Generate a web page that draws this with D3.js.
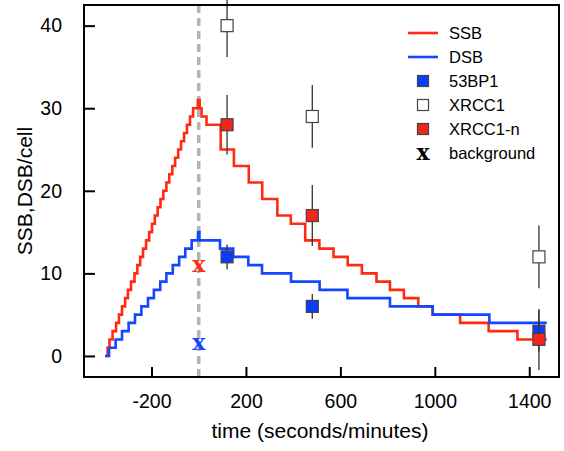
<!DOCTYPE html>
<html>
<head>
<meta charset="utf-8">
<script src="https://cdn.jsdelivr.net/npm/d3@7"></script>
<style>
  body { margin: 0; background: #fff; }
  svg { font-family: "Liberation Sans", Arial, sans-serif; }
</style>
</head>
<body>
<div id="container"></div>
<script>
/* CONSTANTS AND GLOBALS */
const width = 564,
  height = 451,
  margin = {top: 5, bottom: 74, left: 84, right: 5};

/* DATA */
// step curves: time where the value starts, and the value
const ssbT = [-393, -386, -378, -365, -350, -338, -325, -312, -300, -287, -272, -260, -248, -236, -223, -210,
  -198, -186, -174, -162, -150, -137, -125, -112, -100, -87, -75, -62, -50, -37, -24, -4,
  4, 12, 33, 93, 149, 212, 269, 333, 390, 451, 511, 571, 631, 691, 753, 810, 869, 930, 991, 1107, 1228, 1350, 1474];
const ssbV = [0, 1, 2, 3, 4, 5, 6, 7, 8, 9, 10, 11, 12, 13, 14, 15,
  16, 17, 18, 19, 20, 21, 22, 23, 24, 25, 26, 27, 28, 29, 30, 31,
  30, 29, 28, 25, 23, 21, 19, 17, 16, 14, 13, 12, 11, 10, 9, 8, 7, 6, 5, 4, 3, 2, 2];

const dsbT = [-397, -380, -352, -325, -297, -270, -243, -215, -190, -163, -137, -110, -83, -57, -30, -3,
  3, 90, 146, 210, 268, 391, 512, 630, 810, 991, 1231, 1474];
const dsbV = [0, 1, 2, 3, 4, 5, 6, 7, 8, 9, 10, 11, 12, 13, 14, 15,
  14, 13, 12, 11, 10, 9, 8, 7, 6, 5, 4, 4];

const markT = [120, 481, 1441];
const bp53 = [12, 6, 3], bp53Err = [1.5, 1.5, 2.5];
const xrcc1 = [40, 29, 12], xrcc1Err = [3.8, 3.8, 3.8];
const xrcc1n = [28, 17, 2], xrcc1nErr = [3.6, 3.7, 3.7];

const bgT = [0, 0];
const bgV = [11, 1.5];

const xTicks = [-200, 200, 600, 1000, 1400];
const yTicks = [0, 10, 20, 30, 40];

const legendItems = ["SSB", "DSB", "53BP1", "XRCC1", "XRCC1-n", "background"];

const red = "#ff2a12", blue = "#1446ff";

/* SCALES */
const xScale = d3.scaleLinear()
  .domain([-486, 1526])
  .range([margin.left, width - margin.right]);

const yScale = d3.scaleLinear()
  .domain([-2.55, 42.5])
  .range([height - margin.bottom, margin.top]);

/* HTML ELEMENTS */
const svg = d3.select("#container")
  .append("svg")
  .attr("width", width)
  .attr("height", height);

// dashed line at time zero
svg.append("line")
  .attr("x1", xScale(0)).attr("x2", xScale(0))
  .attr("y1", margin.top).attr("y2", height - margin.bottom)
  .attr("stroke", "#b4b4b4")
  .attr("stroke-width", 3.5)
  .attr("stroke-dasharray", "8,5");

const line = d3.line()
  .x(d => xScale(d[0]))
  .y(d => yScale(d[1]))
  .curve(d3.curveStepAfter);

svg.append("path")
  .datum(ssbT.map((t, i) => [t, ssbV[i]]))
  .attr("d", line)
  .attr("fill", "none")
  .attr("stroke", red)
  .attr("stroke-width", 2.6);

svg.append("path")
  .datum(dsbT.map((t, i) => [t, dsbV[i]]))
  .attr("d", line)
  .attr("fill", "none")
  .attr("stroke", blue)
  .attr("stroke-width", 2.6);

// markers with error bars
const series = [
  {vals: xrcc1, err: xrcc1Err, fill: "#ffffff"},
  {vals: bp53, err: bp53Err, fill: "#0a3cff"},
  {vals: xrcc1n, err: xrcc1nErr, fill: "#f2261a"}
];

const sq = 12;
series.forEach(s => {
  const g = svg.append("g");
  g.selectAll("line")
    .data(markT)
    .join("line")
    .attr("x1", d => xScale(d)).attr("x2", d => xScale(d))
    .attr("y1", (d, i) => yScale(s.vals[i] + s.err[i]))
    .attr("y2", (d, i) => yScale(s.vals[i] - s.err[i]))
    .attr("stroke", "#333")
    .attr("stroke-width", 1.3);
  g.selectAll("rect")
    .data(markT)
    .join("rect")
    .attr("x", d => xScale(d) - sq / 2)
    .attr("y", (d, i) => yScale(s.vals[i]) - sq / 2)
    .attr("width", sq).attr("height", sq)
    .attr("fill", s.fill)
    .attr("stroke", "#444")
    .attr("stroke-width", 1.2);
});

// background crosses
const crossFont = "'DejaVu Serif', 'Liberation Serif', serif";
svg.selectAll(".bg")
  .data(bgT)
  .join("text")
  .attr("class", "bg")
  .attr("x", d => xScale(d))
  .attr("y", (d, i) => yScale(bgV[i]))
  .attr("dy", "0.3em")
  .attr("text-anchor", "middle")
  .attr("fill", (d, i) => i == 0 ? red : blue)
  .style("font-family", crossFont)
  .style("font-weight", "bold")
  .style("font-size", "22px")
  .text("x");

// frame
svg.append("rect")
  .attr("x", margin.left).attr("y", margin.top)
  .attr("width", width - margin.left - margin.right)
  .attr("height", height - margin.top - margin.bottom)
  .attr("fill", "none")
  .attr("stroke", "#000")
  .attr("stroke-width", 2);

// axes, ticks pointing inward
const xAxis = d3.axisBottom(xScale).tickValues(xTicks).tickFormat(d => String(d))
  .tickSizeInner(-10).tickSizeOuter(0).tickPadding(17);
const yAxis = d3.axisLeft(yScale).tickValues(yTicks).tickFormat(d => String(d))
  .tickSizeInner(-11).tickSizeOuter(0).tickPadding(22);

const gx = svg.append("g")
  .attr("transform", `translate(0, ${height - margin.bottom})`)
  .call(xAxis);
const gy = svg.append("g")
  .attr("transform", `translate(${margin.left}, 0)`)
  .call(yAxis);

[gx, gy].forEach(g => {
  g.select(".domain").remove();
  g.selectAll(".tick line").attr("stroke", "#000").attr("stroke-width", 2);
  g.selectAll(".tick text")
    .attr("fill", "#000")
    .style("font-family", "'Liberation Sans', Arial, sans-serif")
    .style("font-size", "19.5px");
});

svg.append("text")
  .attr("x", 320)
  .attr("y", 438)
  .attr("text-anchor", "middle")
  .style("font-size", "21px")
  .text("time (seconds/minutes)");

svg.append("text")
  .attr("transform", `translate(32, 191) rotate(-90)`)
  .attr("text-anchor", "middle")
  .style("font-size", "21px")
  .text("SSB,DSB/cell");

// legend
const legend = svg.append("g");
const legY = d3.scalePoint().domain(legendItems).range([33, 153]);

legendItems.forEach((name, i) => {
  const y = legY(name);
  if (i < 2) {
    legend.append("line")
      .attr("x1", 408).attr("x2", 438)
      .attr("y1", y).attr("y2", y)
      .attr("stroke", i == 0 ? red : blue)
      .attr("stroke-width", 2.6);
  } else if (i < 5) {
    legend.append("rect")
      .attr("x", 423 - 5.5).attr("y", y - 5.5)
      .attr("width", 11).attr("height", 11)
      .attr("fill", series[[1, 0, 2][i - 2]].fill)
      .attr("stroke", "#444")
      .attr("stroke-width", 1.2);
  } else {
    legend.append("text")
      .attr("x", 423).attr("y", y)
      .attr("dy", "0.3em")
      .attr("text-anchor", "middle")
      .style("font-family", crossFont)
      .style("font-weight", "bold")
      .style("font-size", "22px")
      .text("x");
  }
  legend.append("text")
    .attr("x", 449).attr("y", y)
    .attr("dy", "0.36em")
    .style("font-size", "16.5px")
    .text(name);
});
</script>
</body>
</html>
